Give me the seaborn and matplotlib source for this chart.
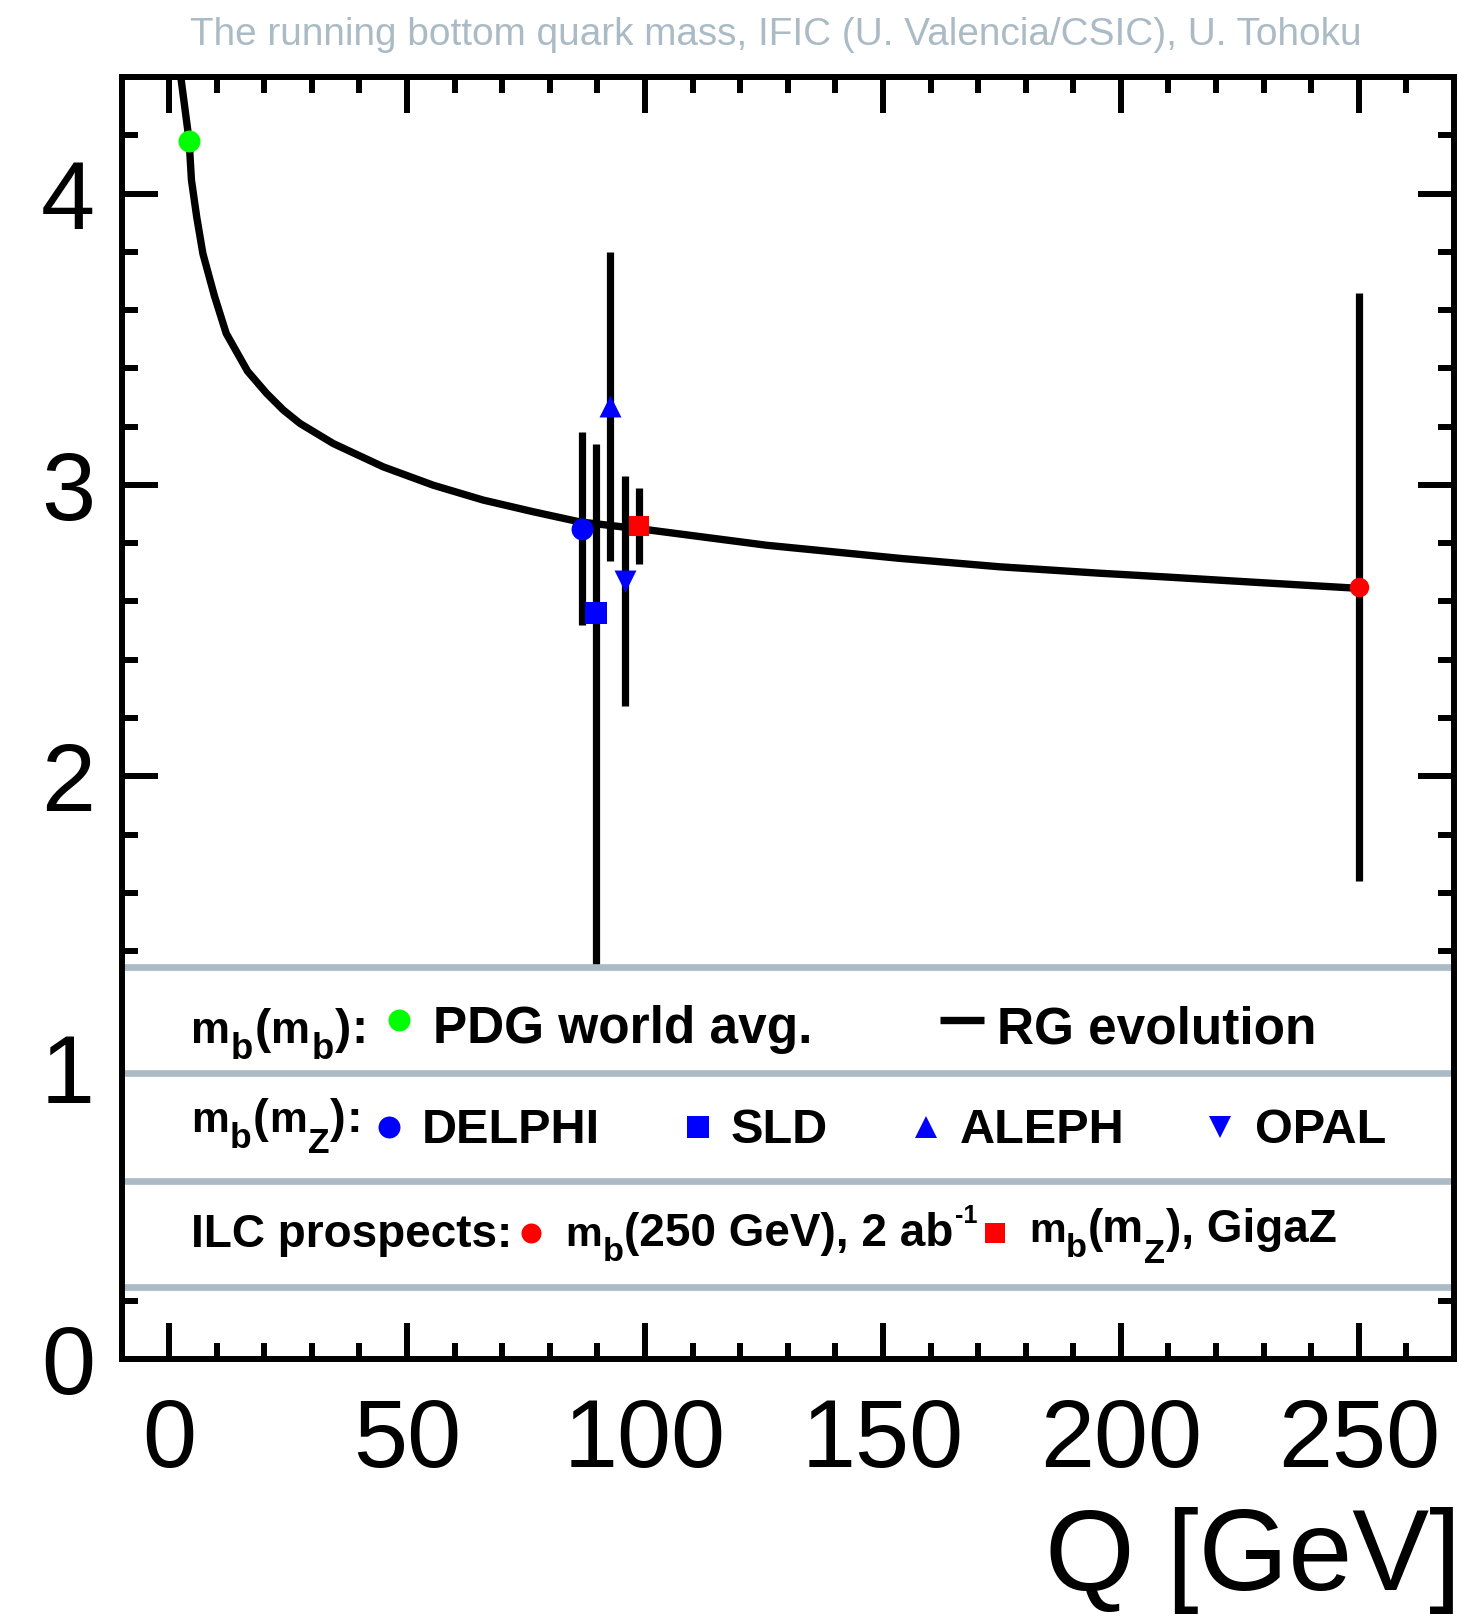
import matplotlib
matplotlib.use("Agg")
import matplotlib.pyplot as plt
import seaborn as sns
import pandas as pd
from matplotlib.ticker import MultipleLocator
from matplotlib.patches import Rectangle

# ---------------- data ----------------
curve_q = [2.3, 4.2, 4.7, 5.8, 7.1, 9.5, 12.0, 16.5, 20.5, 24.0, 27.5, 34.5,
           45.0, 55.5, 66.0, 76.5, 86.3, 101.0, 125.5, 153.5, 174.5, 195.5,
           209.5, 230.0, 250.0]
curve_m = [4.42, 4.183, 4.046, 3.92, 3.794, 3.65, 3.52, 3.39, 3.314, 3.257,
           3.211, 3.142, 3.062, 2.999, 2.948, 2.908, 2.873, 2.845, 2.793,
           2.748, 2.719, 2.697, 2.684, 2.664, 2.645]

pdg_q = [4.18]
pdg_m = [4.18]

meas_names = ["DELPHI", "SLD", "ALEPH", "OPAL"]
meas_q = [86.7, 89.7, 92.7, 95.7]
meas_m = [2.85, 2.56, 3.27, 2.67]
meas_err_up = [0.33, 0.58, 0.53, 0.36]
meas_err_dn = [0.33, 1.50, 0.53, 0.43]
meas_markers = ["o", "s", "^", "v"]

ilc_names = ["250 GeV", "GigaZ"]
ilc_q = [250.0, 98.7]
ilc_m = [2.65, 2.86]
ilc_err = [1.01, 0.13]
ilc_markers = ["o", "s"]

x_ticks = [0, 50, 100, 150, 200, 250]
y_ticks = [0, 1, 2, 3, 4]
legend_sep_y = [1.3465, 0.9816, 0.612, 0.247]

title = "The running bottom quark mass, IFIC (U. Valencia/CSIC), U. Tohoku"

# ---------------- style ----------------
sns.set_style("ticks")
plt.rcParams["font.family"] = ["Liberation Sans", "DejaVu Sans"]

W, H = 1459, 1614
GREY = "#abbbc5"
fig = plt.figure(figsize=(W / 100, H / 100), dpi=100)
ax = fig.add_axes([121.5 / W, 1 - 1359 / H, (1454 - 121.5) / W, (1359 - 77) / H])

# curve
df_curve = pd.DataFrame({"Q": curve_q, "m": curve_m})
sns.lineplot(data=df_curve, x="Q", y="m", ax=ax, color="black", sort=False,
             linewidth=5.3)
for ln in ax.get_lines():
    if len(ln.get_xdata()) == len(curve_q):
        ln.set_linewidth(5.3)
        ln.set_zorder(1.2)
        ln.set_solid_joinstyle("round")
        ln.set_solid_capstyle("butt")

# error bars
for q, m, up, dn in zip(meas_q, meas_m, meas_err_up, meas_err_dn):
    ax.errorbar([q], [m], yerr=[[dn], [up]], fmt="none", ecolor="black",
                elinewidth=5.2, capsize=0, zorder=1.4)
for q, m, e in zip(ilc_q, ilc_m, ilc_err):
    ax.errorbar([q], [m], yerr=[[e], [e]], fmt="none", ecolor="black",
                elinewidth=5.2, capsize=0, zorder=1.4)

# markers
sns.scatterplot(x=pdg_q, y=pdg_m, ax=ax, color="#00ff00", marker="o",
                s=15.8 ** 2, linewidth=0, zorder=1.6)
for q, m, mk in zip(meas_q, meas_m, meas_markers):
    sns.scatterplot(x=[q], y=[m], ax=ax, color="#0000ff", marker=mk,
                    s=15.8 ** 2, linewidth=0, zorder=1.6)
for q, m, mk in zip(ilc_q, ilc_m, ilc_markers):
    sns.scatterplot(x=[q], y=[m], ax=ax, color="#ff0000", marker=mk,
                    s=14.0 ** 2, linewidth=0, zorder=1.6)

# legend area (white box with grey separators)
ax.add_patch(Rectangle((0, legend_sep_y[-1]), 1, legend_sep_y[0] - legend_sep_y[-1],
                       transform=ax.get_yaxis_transform(), facecolor="white",
                       edgecolor="none", zorder=1.8))
for yy in legend_sep_y:
    ax.axhline(yy, color=GREY, lw=4.8, zorder=1.9)

ax.set_xlim(-10, 270)
ax.set_ylim(0, 4.4)
ax.set_xticks(x_ticks)
ax.set_yticks(y_ticks)
ax.xaxis.set_minor_locator(MultipleLocator(10))
ax.yaxis.set_minor_locator(MultipleLocator(0.2))
ax.set_xlabel("")
ax.set_ylabel("")
for s in ax.spines.values():
    s.set_linewidth(4.3)
    s.set_color("black")
    s.set_visible(True)
ax.tick_params(which="both", direction="in", top=True, right=True,
               width=4.3, color="black", labelcolor="black")
ax.tick_params(which="major", length=26)
ax.tick_params(which="minor", length=11.5)
ax.tick_params(axis="x", which="major", labelsize=70, pad=27)
ax.tick_params(axis="y", which="major", labelsize=70, pad=19)

# ---------------- overlay in pixel coordinates ----------------
ov = fig.add_axes([0, 0, 1, 1], facecolor="none")
ov.set_xlim(0, W)
ov.set_ylim(H, 0)
ov.axis("off")

ov.text(776, 45, title, ha="center", va="baseline", fontsize=27.9, color=GREY)
ov.text(1461, 1590, "Q [GeV]", ha="right", va="baseline", fontsize=83, color="black")

renderer = fig.canvas.get_renderer()


def rich(x, y, pieces, size, gap=0.02):
    """Draw bold text pieces one after another: (text, relative size, drop in em)."""
    spx = size * 100 / 72
    for s, rel, dy in pieces:
        t = ov.text(x, y + dy * spx, s, fontsize=size * rel, fontweight="bold",
                    color="black", ha="left", va="baseline")
        bb = t.get_window_extent(renderer)
        x += bb.width + gap * spx
    return x


SUB = 0.75
# row 1
F1 = 37
rich(191, 1043, [("m", 0.9, 0), ("b", SUB, 0.33), ("(", 1, 0), ("m", 0.9, 0),
                 ("b", SUB, 0.33), (")", 1, 0), (":", 1, 0)], 35)
ov.plot([399], [1020], "o", color="#00ff00", ms=15.8, mew=0)
rich(433, 1043, [("PDG world avg.", 1, 0)], F1)
ov.plot([940, 984], [1020, 1020], color="black", lw=5.3, solid_capstyle="butt")
rich(997, 1043, [("RG evolution", 1, 0)], F1)

# row 2
F2 = 35
rich(191, 1132, [("m", 0.9, 0), ("b", SUB, 0.33), ("(", 1, 0), ("m", 0.9, 0),
                 ("Z", SUB, 0.45), (")", 1, 0), (":", 1, 0)], 34)
leg2_x = [388.6, 698, 926, 1220]
leg2_tx = [422, 731, 960, 1255]
for mx, tx, mk, name in zip(leg2_x, leg2_tx, meas_markers, meas_names):
    ov.plot([mx], [1127], mk, color="#0000ff", ms=15.8, mew=0)
    rich(tx, 1143, [(name, 1, 0)], F2)

# row 3
F3 = 33
rich(191, 1247, [("ILC prospects:", 1, 0)], F3)
ov.plot([530.7], [1233], "o", color="#ff0000", ms=14.4, mew=0)
rich(565, 1246, [("m", 0.9, 0), ("b", SUB, 0.33), ("(250 GeV), 2 ab", 1, 0),
                 ("-1", 0.55, -0.5)], F3, gap=0.02)
ov.plot([995], [1233], "s", color="#ff0000", ms=14.4, mew=0)
rich(1029, 1242, [("m", 0.9, 0), ("b", SUB, 0.33), ("(m", 1, 0),
                  ("Z", SUB, 0.45), ("), GigaZ", 1, 0)], F3, gap=0.01)

fig.savefig("out.png", dpi=100)
